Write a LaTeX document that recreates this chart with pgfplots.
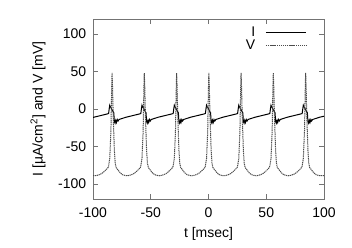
\documentclass[border=0pt]{standalone}
\usepackage{pgfplots}
\pgfplotsset{compat=1.18}
\usepackage{fontspec}
\setmainfont{Liberation Sans}
\begin{document}
\fontsize{14}{16}\selectfont
\begin{tikzpicture}
\begin{axis}[
  scale only axis,
  width=231pt, height=180pt,
  xmin=-100, xmax=100, ymin=-120, ymax=120,
  xtick={-100,-50,0,50,100},
  ytick={-100,-50,0,50,100},
  tick align=inside,
  major tick length=5pt,
  axis line style={draw=black!55, line width=0.7pt},
  every tick/.style={black!55, line width=0.7pt},
  /pgf/number format/assume math mode=true,
  ticklabel style={font=\fontsize{14}{16}\selectfont},
  xticklabel style={yshift=-4pt},
  yticklabel style={xshift=-2pt},
  xlabel={t [msec]},
  ylabel={I [µA/cm\textsuperscript{2}] and V [mV]},
  ylabel style={yshift=3pt},
  label style={font=\fontsize{14}{16}\selectfont},
  legend style={draw=none, fill=none, at={(0.937,0.98)}, anchor=north east, font=\fontsize{14}{16}\selectfont, row sep=-3pt,
    /tikz/every odd column/.append style={column sep=8pt}},
  legend cell align=right,
  legend plot pos=right,
  legend image code/.code={\draw[#1] (0pt,0pt) -- (40pt,0pt);},
]
\addplot[black, line width=1pt] coordinates {
(-100,-11.2) (-99.4,-11) (-95.4,-9.5) (-91.4,-8) (-87.4,-6.5)
(-86.5,-6) (-86,0) (-85.5,5) (-85,3) (-84.5,2) (-83.5,-1) (-82.8,-3) (-82,-5) (-81.5,-17) (-80.9,-19) (-80.3,-15) (-79.7,-18) (-79,-14) (-78.3,-16) (-77.5,-14) (-75.5,-13) (-71.5,-11) (-67.5,-9.5) (-63.5,-8) (-59.5,-6.5)
(-58.6,-6) (-58.1,0) (-57.6,5) (-57.1,3) (-56.6,2) (-55.6,-1) (-54.9,-3) (-54.1,-5) (-53.6,-17) (-53,-19) (-52.4,-15) (-51.8,-18) (-51.1,-14) (-50.4,-16) (-49.6,-14) (-47.6,-13) (-43.6,-11) (-39.6,-9.5) (-35.6,-8) (-31.6,-6.5)
(-30.6,-6) (-30.1,0) (-29.6,5) (-29.1,3) (-28.6,2) (-27.6,-1) (-26.9,-3) (-26.1,-5) (-25.6,-17) (-25,-19) (-24.4,-15) (-23.8,-18) (-23.1,-14) (-22.4,-16) (-21.6,-14) (-19.6,-13) (-15.6,-11) (-11.6,-9.5) (-7.6,-8) (-3.6,-6.5)
(-2.7,-6) (-2.2,0) (-1.7,5) (-1.2,3) (-0.7,2) (0.3,-1) (1,-3) (1.8,-5) (2.3,-17) (2.9,-19) (3.5,-15) (4.1,-18) (4.8,-14) (5.5,-16) (6.3,-14) (8.3,-13) (12.3,-11) (16.3,-9.5) (20.3,-8) (24.3,-6.5)
(25.2,-6) (25.7,0) (26.2,5) (26.7,3) (27.2,2) (28.2,-1) (28.9,-3) (29.7,-5) (30.2,-17) (30.8,-19) (31.4,-15) (32,-18) (32.7,-14) (33.4,-16) (34.2,-14) (36.2,-13) (40.2,-11) (44.2,-9.5) (48.2,-8) (52.2,-6.5)
(53.1,-6) (53.6,0) (54.1,5) (54.6,3) (55.1,2) (56.1,-1) (56.8,-3) (57.6,-5) (58.1,-17) (58.7,-19) (59.3,-15) (59.9,-18) (60.6,-14) (61.3,-16) (62.1,-14) (64.1,-13) (68.1,-11) (72.1,-9.5) (76.1,-8) (80.1,-6.5)
(81.1,-6) (81.6,0) (82.1,5) (82.6,3) (83.1,2) (84.1,-1) (84.8,-3) (85.6,-5) (86.1,-17) (86.7,-19) (87.3,-15) (87.9,-18) (88.6,-14) (89.3,-16) (90.1,-14) (92.1,-13) (96.1,-11) (100,-9.6)
};
\addlegendentry{I}
\addplot[black!70, line width=1pt, dash pattern=on 1.2pt off 0.7pt] coordinates {
(-100,-88.8) (-98.4,-89) (-96.4,-88.5) (-94.4,-87.5) (-92.4,-86) (-90.4,-83.5) (-88.4,-80.5) (-86.9,-78)
(-86.5,-76) (-85.5,-66) (-84.5,-30) (-83.8,30) (-83.5,48)
(-83.1,30) (-82.5,-10) (-81.5,-55) (-80.8,-72) (-80,-78) (-78.5,-81) (-76.5,-85) (-74.5,-87.5) (-72.5,-88.5) (-70.5,-89) (-68.5,-88.5) (-66.5,-87.5) (-64.5,-86) (-62.5,-83.5) (-60.5,-80.5) (-59,-78)
(-58.6,-76) (-57.6,-66) (-56.6,-30) (-55.9,30) (-55.6,48)
(-55.2,30) (-54.6,-10) (-53.6,-55) (-52.9,-72) (-52.1,-78) (-50.6,-81) (-48.6,-85) (-46.6,-87.5) (-44.6,-88.5) (-42.6,-89) (-40.6,-88.5) (-38.6,-87.5) (-36.6,-86) (-34.6,-83.5) (-32.6,-80.5) (-31.1,-78)
(-30.6,-76) (-29.6,-66) (-28.6,-30) (-27.9,30) (-27.6,48)
(-27.2,30) (-26.6,-10) (-25.6,-55) (-24.9,-72) (-24.1,-78) (-22.6,-81) (-20.6,-85) (-18.6,-87.5) (-16.6,-88.5) (-14.6,-89) (-12.6,-88.5) (-10.6,-87.5) (-8.6,-86) (-6.6,-83.5) (-4.6,-80.5) (-3.1,-78)
(-2.7,-76) (-1.7,-66) (-0.7,-30) (0,30) (0.3,48)
(0.7,30) (1.3,-10) (2.3,-55) (3,-72) (3.8,-78) (5.3,-81) (7.3,-85) (9.3,-87.5) (11.3,-88.5) (13.3,-89) (15.3,-88.5) (17.3,-87.5) (19.3,-86) (21.3,-83.5) (23.3,-80.5) (24.8,-78)
(25.2,-76) (26.2,-66) (27.2,-30) (27.9,30) (28.2,48)
(28.6,30) (29.2,-10) (30.2,-55) (30.9,-72) (31.7,-78) (33.2,-81) (35.2,-85) (37.2,-87.5) (39.2,-88.5) (41.2,-89) (43.2,-88.5) (45.2,-87.5) (47.2,-86) (49.2,-83.5) (51.2,-80.5) (52.7,-78)
(53.1,-76) (54.1,-66) (55.1,-30) (55.8,30) (56.1,48)
(56.5,30) (57.1,-10) (58.1,-55) (58.8,-72) (59.6,-78) (61.1,-81) (63.1,-85) (65.1,-87.5) (67.1,-88.5) (69.1,-89) (71.1,-88.5) (73.1,-87.5) (75.1,-86) (77.1,-83.5) (79.1,-80.5) (80.6,-78)
(81.1,-76) (82.1,-66) (83.1,-30) (83.8,30) (84.1,48)
(84.5,30) (85.1,-10) (86.1,-55) (86.8,-72) (87.6,-78) (89.1,-81) (91.1,-85) (93.1,-87.5) (95.1,-88.5) (97.1,-89) (100,-88.7)
};
\addlegendentry{V}
\end{axis}
\pgfresetboundingbox
\path ([shift={(-93pt,-48pt)}]current axis.south west) rectangle ([shift={(28pt,19pt)}]current axis.north east);
\end{tikzpicture}
\end{document}
